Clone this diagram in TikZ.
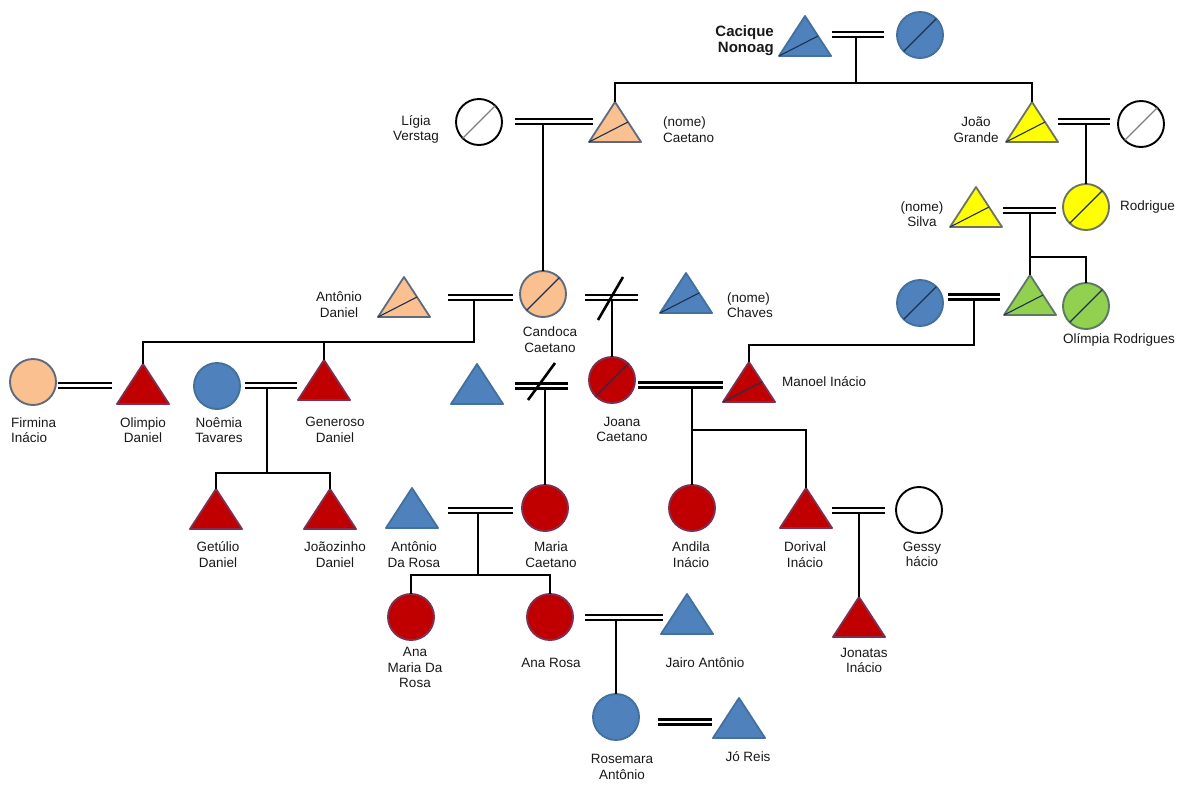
\documentclass[tikz,border=0pt]{standalone}
\usepackage{fontspec}
\setmainfont{Liberation Sans}
\definecolor{bluef}{HTML}{4F81BD}
\definecolor{blued}{HTML}{41719C}
\definecolor{redf}{HTML}{C00000}
\definecolor{redd}{HTML}{7F2F4F}
\definecolor{peachf}{HTML}{FAC090}
\definecolor{peachd}{HTML}{5F6B7D}
\definecolor{yelf}{HTML}{FFFF00}
\definecolor{yeld}{HTML}{6E7460}
\definecolor{grnf}{HTML}{92D050}
\definecolor{grnd}{HTML}{5C7A63}
\definecolor{slc}{HTML}{1F2F4F}
\newcommand\mytribody[2]{%
  \path[draw=#2, fill=#1, line width=1.8pt, line join=round] (0,-20) coordinate (-t) -- (26,20) -- (-26,20) -- cycle;
  \coordinate (-c) at (0,0);}
\newcommand\mycircbody[2]{%
  \path[draw=#2, fill=#1, line width=1.9pt] (0,0) circle[radius=23];
  \coordinate (-t) at (0,-23); \coordinate (-c) at (0,0);}
\tikzset{
  kin/.style={draw=black, line width=2.6pt},
  marr/.style={draw=black, line width=2.5pt, double=white, double distance=2.4pt},
  divslash/.style={draw=black, line width=2.6pt},
  slash/.style={draw=slc, line width=1.1pt},
  wslash/.style={draw=gray, line width=1.1pt},
  lab/.style={font=\fontsize{13.5}{15.5}\selectfont, align=center, inner sep=0pt, text=black!90},
  boldlab/.style={font=\fontsize{15}{16}\selectfont\bfseries, align=right, inner sep=0pt, text=black!90},
  pics/tri/.style 2 args={code={\mytribody{#1}{#2}}},
  pics/trid/.style 2 args={code={\mytribody{#1}{#2}\draw[slash] (-26,20) -- (13,0);}},
  pics/circ/.style 2 args={code={\mycircbody{#1}{#2}}},
  pics/circd/.style 2 args={code={\mycircbody{#1}{#2}\draw[slash] (-16.3,16.3) -- (16.3,-16.3);}},
  pics/circw/.style={code={\mycircbody{white}{black}\draw[wslash] (-16.3,16.3) -- (16.3,-16.3);}},
}
\begin{document}
\begin{tikzpicture}[x=1pt,y=-1pt]
\useasboundingbox (0,0) rectangle (1177,809);
\fill[white] (0,0) rectangle (1177,809);

% ---------- labels ----------
\node[boldlab, anchor=east] (lcac) at (774,41) {Cacique\\Nonoag};
\node[lab] (llig) at (416,129.5) {Lígia\\Verstag};
\node[lab, anchor=west, align=left] (lcae) at (663,129.5) {(nome)\\Caetano};
\node[lab] (ljoao) at (976,129.5) {João\\Grande};
\node[lab] (lsil) at (922,214) {(nome)\\Silva};
\node[lab, anchor=west] (lrod) at (1120,207) {Rodrigue};
\node[lab, anchor=west] (lolim2) at (1063,340) {Olímpia Rodrigues};
\node[lab] (lad) at (339,304.5) {Antônio\\Daniel};
\node[lab] (lcand) at (550,339.5) {Candoca\\Caetano};
\node[lab, anchor=west, align=left] (lchav) at (727,305) {(nome)\\Chaves};
\node[lab] (ljoana) at (622,429.5) {Joana\\Caetano};
\node[lab, anchor=west] (lman) at (782,382) {Manoel Inácio};
\node[lab, anchor=west, align=left] (lfirm) at (11,430) {Firmina\\Inácio};
\node[lab] (lolim) at (143,430) {Olimpio\\Daniel};
\node[lab] (lnoem) at (219,430) {Noêmia\\Tavares};
\node[lab] (lgen) at (335,430) {Generoso\\Daniel};
\node[lab] (lget) at (218,554.5) {Getúlio\\Daniel};
\node[lab] (ljoz) at (335,554.5) {Joãozinho\\Daniel};
\node[lab] (ladr) at (414,554.5) {Antônio\\Da Rosa};
\node[lab] (lmaria) at (551,554.5) {Maria\\Caetano};
\node[lab] (landila) at (691,554.5) {Andila\\Inácio};
\node[lab] (ldor) at (805,554.5) {Dorival\\Inácio};
\node[lab] (lgessy) at (922,554.5) {Gessy\\hácio};
\node[lab] (ljon) at (864,660.5) {Jonatas\\Inácio};
\node[lab] (lanam) at (415,667.5) {Ana\\Maria Da\\Rosa};
\node[lab] (lanar) at (551,663) {Ana Rosa};
\node[lab] (ljairo) at (705,663) {Jairo Antônio};
\node[lab] (lrose) at (622,767) {Rosemara\\Antônio};
\node[lab] (ljo) at (748,757) {Jó Reis};

% ---------- persons ----------
\pic (cac) at (805,36) {trid={bluef}{blued}};
\pic (cacw) at (920,35) {circd={bluef}{blued}};
\pic (cae) at (615,122) {trid={peachf}{peachd}};
\pic (lig) at (479,122) {circw};
\pic (joao) at (1032,122) {trid={yelf}{yeld}};
\pic (joaow) at (1141,124) {circw};
\pic (silva) at (976,207) {trid={yelf}{yeld}};
\pic (rod) at (1086,207) {circd={yelf}{yeld}};
\pic (gtri) at (1030,295) {trid={grnf}{grnd}};
\pic (gcirc) at (1086,306) {circd={grnf}{grnd}};
\pic (bcirc) at (920,303) {circd={bluef}{blued}};
\pic (ad) at (404,297) {trid={peachf}{peachd}};
\pic (cand) at (543,294) {circd={peachf}{peachd}};
\pic (chav) at (686,293) {trid={bluef}{blued}};
\pic (joana) at (612,380) {circd={redf}{redd}};
\pic (bt) at (477,384) {tri={bluef}{blued}};
\pic (man) at (749,382) {trid={redf}{redd}};
\pic (firm) at (33,382) {circ={peachf}{peachd}};
\pic (olim) at (143,384) {tri={redf}{redd}};
\pic (noem) at (217,386) {circ={bluef}{blued}};
\pic (gen) at (324,380) {tri={redf}{redd}};
\pic (get) at (216,509) {tri={redf}{redd}};
\pic (joz) at (330,509) {tri={redf}{redd}};
\pic (adr) at (412,508) {tri={bluef}{blued}};
\pic (maria) at (545,508) {circ={redf}{redd}};
\pic (andila) at (692,508) {circ={redf}{redd}};
\pic (dor) at (806,508) {tri={redf}{redd}};
\pic (gessy) at (919,510) {circ={white}{black}};
\pic (jon) at (859,617) {tri={redf}{redd}};
\pic (anam) at (411,617) {circ={redf}{redd}};
\pic (anar) at (550,617) {circ={redf}{redd}};
\pic (jairo) at (687,614) {tri={bluef}{blued}};
\pic (rose) at (616,717) {circ={bluef}{blued}};
\pic (jo) at (739,718) {tri={bluef}{blued}};

% ---------- marriage coordinates ----------
\coordinate (m1a) at (832,34.5);  \coordinate (m1b) at (884,34.5);  \coordinate (m1d) at (856,36.5); \coordinate (s1) at (856,83);
\coordinate (m2a) at (515,121.5); \coordinate (m2b) at (593,121.5); \coordinate (m2d) at (543,123.5);
\coordinate (m3a) at (1058,121.5);\coordinate (m3b) at (1110,121.5);\coordinate (m3d) at (1086,123.5);
\coordinate (m4a) at (1003,210.5);\coordinate (m4b) at (1056,210.5);\coordinate (m4d) at (1030,212.5); \coordinate (s4) at (1030,257);
\coordinate (m5a) at (948,297);   \coordinate (m5b) at (1000,297);  \coordinate (m5d) at (974,299); \coordinate (s5) at (974,345);
\coordinate (m6a) at (448,297.5); \coordinate (m6b) at (513,297.5); \coordinate (m6d) at (474,299.5); \coordinate (s6) at (474,342);
\coordinate (m7a) at (585,297.5); \coordinate (m7b) at (638,297.5); \coordinate (m7d) at (612,299.5);
\coordinate (d7a) at (598,320);   \coordinate (d7b) at (623,277);
\coordinate (m8a) at (515,386);   \coordinate (m8b) at (568,386);   \coordinate (m8d) at (545,388);
\coordinate (d8a) at (528,400);   \coordinate (d8b) at (555,363);
\coordinate (m9a) at (638,385);   \coordinate (m9b) at (723,385);   \coordinate (m9d) at (692,387); \coordinate (s9) at (692,430);
\coordinate (m10a) at (58,385.5); \coordinate (m10b) at (112,385.5);
\coordinate (m11a) at (245,385.5);\coordinate (m11b) at (297,385.5);\coordinate (m11d) at (267,387.5); \coordinate (s11) at (267,473);
\coordinate (m12a) at (448,510.5);\coordinate (m12b) at (513,510.5);\coordinate (m12d) at (478,512.5); \coordinate (s12) at (478,575);
\coordinate (m13a) at (832,510.5);\coordinate (m13b) at (885,510.5);\coordinate (m13d) at (859,512.5);
\coordinate (m14a) at (585,617.5);\coordinate (m14b) at (663,617.5);\coordinate (m14d) at (616,619.5);
\coordinate (m15a) at (658,722);  \coordinate (m15b) at (712,722);

% ---------- marriages ----------
\foreach \m in {m1,m2,m3,m4,m5,m6,m7,m8,m9,m10,m11,m12,m13,m14,m15}
  \draw[marr] (\m a) -- (\m b);
\draw[divslash] (d7a) -- (d7b);
\draw[divslash] (d8a) -- (d8b);

% ---------- descent lines ----------
\draw[kin] (m1d) -- (s1) -| (cae-t);
\draw[kin] (s1) -| (joao-t);
\draw[kin] (m2d) -- (cand-t);
\draw[kin] (m3d) -- (rod-t);
\draw[kin] (m4d) -- (gtri-t);
\draw[kin] (s4) -| (gcirc-t);
\draw[kin] (m5d) -- (s5) -| (man-t);
\draw[kin] (m6d) -- (s6) -| (olim-t);
\draw[kin] (s6) -| (gen-t);
\draw[kin] (m7d) -- (joana-t);
\draw[kin] (m8d) -- (maria-t);
\draw[kin] (m9d) -- (andila-t);
\draw[kin] (s9) -| (dor-t);
\draw[kin] (m11d) -- (s11) -| (get-t);
\draw[kin] (s11) -| (joz-t);
\draw[kin] (m12d) -- (s12) -| (anam-t);
\draw[kin] (s12) -| (anar-t);
\draw[kin] (m13d) -- (jon-t);
\draw[kin] (m14d) -- (rose-t);
\end{tikzpicture}
\end{document}
